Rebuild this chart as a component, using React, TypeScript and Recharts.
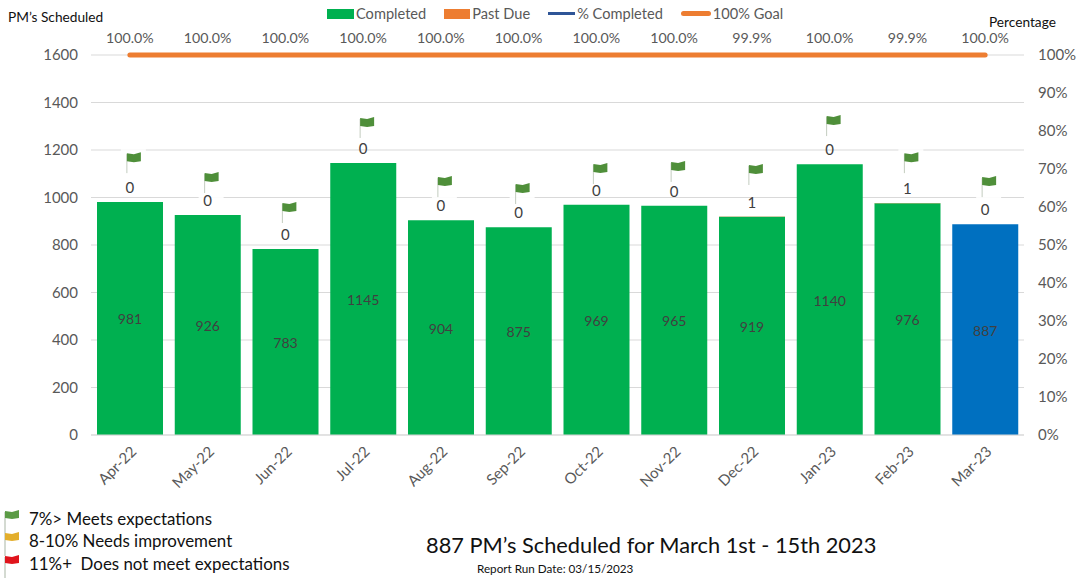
import React from "react";
import {
  Bar,
  CartesianGrid,
  Cell,
  ComposedChart,
  LabelList,
  Legend,
  Line,
  XAxis,
  YAxis,
} from "recharts";

const months = ["Apr-22", "May-22", "Jun-22", "Jul-22", "Aug-22", "Sep-22", "Oct-22", "Nov-22", "Dec-22", "Jan-23", "Feb-23", "Mar-23"];
const completed = [981, 926, 783, 1145, 904, 875, 969, 965, 919, 1140, 976, 887];
const pastDue = [0, 0, 0, 0, 0, 0, 0, 0, 1, 0, 1, 0];
const percentCompleted = [100, 100, 100, 100, 100, 100, 100, 100, 99.9, 100, 99.9, 100];
const goal = [100, 100, 100, 100, 100, 100, 100, 100, 100, 100, 100, 100];
// height of each status flag
const flagLevels = [1170, 1086, 960, 1318, 1069, 1040, 1124, 1133, 1120, 1326, 1170, 1069];

const leftTicks = [0, 200, 400, 600, 800, 1000, 1200, 1400, 1600];
const rightTicks = [0, 10, 20, 30, 40, 50, 60, 70, 80, 90, 100];
const legendOrder = ["Completed", "Past Due", "% Completed", "100% Goal"];

const data = months.map((month, i) => ({
  month,
  completed: completed[i],
  pastDue: pastDue[i],
  total: completed[i] + pastDue[i],
  percent: percentCompleted[i],
  goal: goal[i],
  flag: flagLevels[i],
}));

const FONT = "Lato, sans-serif";
const GREEN = "#00B050";
const BLUE = "#0070C0";
const ORANGE = "#ED7D31";
const TICK = { fill: "#595959", fontSize: 15, fontFamily: FONT };

const FlagDot = (props: any) => {
  const { cx, cy, index } = props;
  return (
    <g key={index}>
      <rect x={cx - 9} y={cy - 8} width={25} height={30} fill="#fff" opacity={0.9} />
      <line x1={cx - 3} y1={cy - 3} x2={cx - 3} y2={cy + 16} stroke="#c3ccbf" strokeWidth={1} />
      <path
        d={`M${cx - 3} ${cy - 4} L${cx + 4} ${cy - 3} L${cx + 11} ${cy - 5} L${cx + 11} ${cy + 4} L${cx + 4} ${cy + 5} L${cx - 3} ${cy + 4} Z`}
        fill="#4F8F3A"
      />
    </g>
  );
};

const KeyFlag = ({ top, color }: { top: number; color: string }) => (
  <svg width={18} height={26} style={{ position: "absolute", left: 3, top }}>
    <line x1={2} y1={3} x2={2} y2={25} stroke="#a9b5a4" strokeWidth={1} />
    <path d="M2 2 L9 3 L16 1 L16 9 L9 10 L2 9 Z" fill={color} />
  </svg>
);

const legendMarks: Record<string, React.ReactNode> = {
  Completed: <div style={{ width: 27, height: 10, background: GREEN }} />,
  "Past Due": <div style={{ width: 26, height: 10, background: ORANGE }} />,
  "% Completed": <div style={{ width: 27, height: 2.5, background: "#2F5597" }} />,
  "100% Goal": <div style={{ width: 30, height: 5, borderRadius: 3, background: ORANGE }} />,
};

const LegendContent = () => (
  <div style={{ display: "flex", gap: 18, fontFamily: FONT, fontSize: 14.6, color: "#595959", whiteSpace: "nowrap" }}>
    {legendOrder.map((name) => (
      <div key={name} style={{ display: "flex", alignItems: "center", gap: 2 }}>
        {legendMarks[name]}
        <span>{name}</span>
      </div>
    ))}
  </div>
);

const textAt = (left: number, top: number, size: number): React.CSSProperties => ({
  position: "absolute",
  left,
  top,
  fontSize: size,
  fontFamily: FONT,
  color: "#111",
  whiteSpace: "nowrap",
  lineHeight: 1,
});

export default function App() {
  return (
    <div style={{ position: "absolute", left: 0, top: 0, width: 1078, height: 578, background: "#fff", overflow: "hidden" }}>
      <ComposedChart width={1078} height={578} data={data} margin={{ top: 55, right: 0, bottom: 0, left: 0 }}>
        <CartesianGrid yAxisId="left" vertical={false} stroke="#d9d9d9" />
        <XAxis
          dataKey="month"
          height={143}
          interval={0}
          angle={-45}
          textAnchor="end"
          tick={TICK}
          tickLine={false}
          tickSize={0}
          tickMargin={10}
          axisLine={{ stroke: "#d9d9d9" }}
        />
        <YAxis
          yAxisId="left"
          width={91}
          domain={[0, 1600]}
          ticks={leftTicks}
          tick={TICK}
          tickSize={0}
          tickMargin={13}
          tickLine={false}
          axisLine={false}
        />
        <YAxis
          yAxisId="right"
          orientation="right"
          width={54}
          domain={[0, 100]}
          ticks={rightTicks}
          tickFormatter={(v: number) => `${v}%`}
          tick={TICK}
          tickSize={0}
          tickMargin={14}
          tickLine={false}
          axisLine={false}
        />
        <Legend
          verticalAlign="middle"
          align="center"
          layout="horizontal"
          wrapperStyle={{ position: "absolute", left: 327, top: 5, width: 480 }}
          content={<LegendContent />}
        />
        <Bar yAxisId="left" dataKey="completed" name="Completed" stackId="a" fill={GREEN} barSize={66} isAnimationActive={false}>
          {data.map((d, i) => (
            <Cell key={d.month} fill={i === data.length - 1 ? BLUE : GREEN} />
          ))}
          <LabelList dataKey="completed" position="center" dy={1} fill="#404040" fontSize={14} fontFamily={FONT} />
        </Bar>
        <Bar yAxisId="left" dataKey="pastDue" name="Past Due" stackId="a" fill={ORANGE} barSize={66} isAnimationActive={false} />
        <Line yAxisId="right" dataKey="percent" name="% Completed" stroke="#2F5597" strokeWidth={2} dot={false} isAnimationActive={false}>
          <LabelList
            dataKey="percent"
            position="top"
            offset={12}
            formatter={(v: any) => `${Number(v).toFixed(1)}%`}
            fill="#595959"
            fontSize={14.2}
            fontFamily={FONT}
          />
        </Line>
        <Line yAxisId="right" dataKey="goal" name="100% Goal" stroke={ORANGE} strokeWidth={5} strokeLinecap="round" dot={false} isAnimationActive={false} />
        <Line yAxisId="left" dataKey="flag" name="Flag" stroke="none" legendType="none" dot={FlagDot} activeDot={false} isAnimationActive={false} />
        <Line yAxisId="left" dataKey="total" name="Past Due count" stroke="none" legendType="none" dot={false} activeDot={false} isAnimationActive={false}>
          <LabelList dataKey="pastDue" position="top" offset={9} fill="#404040" fontSize={15} fontFamily={FONT} />
        </Line>
      </ComposedChart>

      <div style={textAt(8, 10, 13.7)}>PM’s Scheduled</div>
      <div style={textAt(989, 15, 13.7)}>Percentage</div>

      <KeyFlag top={509} color="#5B9B45" />
      <KeyFlag top={531} color="#E3AE2B" />
      <KeyFlag top={554} color="#E0141C" />
      <div style={textAt(29, 511, 16.9)}>7%&gt; Meets expectations</div>
      <div style={textAt(29, 533, 16.9)}>8-10% Needs improvement</div>
      <div style={textAt(29, 556, 16.9)}>11%+&nbsp; Does not meet expectations</div>

      <div style={textAt(426, 534, 21.8)}>887 PM’s Scheduled for March 1st - 15th 2023</div>
      <div style={textAt(477, 563, 11.7)}>Report Run Date: 03/15/2023</div>
    </div>
  );
}
